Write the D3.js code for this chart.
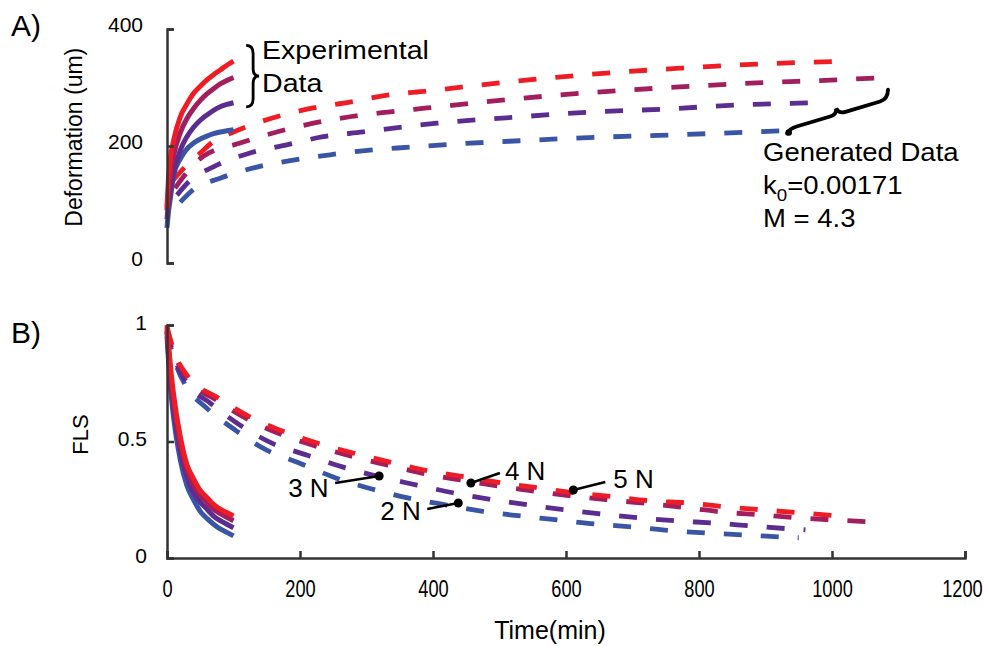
<!DOCTYPE html>
<html lang="en">
  <head>
    <title>Deformation and FLS</title>
    <script src="https://d3js.org/d3.v7.min.js" charset="utf-8"></script>
    <style type="text/css">
      body { margin: 0; background: white; font-family: "Liberation Sans", Arial, sans-serif; }
      .axis path, .axis line { stroke: #333; stroke-width: 2.5px; }
      .axis text { font-family: "Liberation Sans", Arial, sans-serif; fill: #000; }
    </style>
  </head>
  <body>
    <script>
      var width = 984;
      var height = 646;

      // series order: 2 N, 3 N, 4 N, 5 N
      var loads = ["2 N", "3 N", "4 N", "5 N"];
      var colors = ["#3a55a5", "#5b2d90", "#a21e5c", "#ee1c25"];

      // A) experimental deformation (um), t = 0..100 min
      var expTime = [0, 2, 5, 10, 20, 30, 40, 50, 60, 70, 80, 90, 100];
      var expDef2N = [60, 85, 110, 150, 178, 195, 205, 212, 217, 221, 224, 226, 228];
      var expDef3N = [75, 100, 125, 155, 193, 216, 232, 244, 253, 261, 267, 271, 274];
      var expDef4N = [90, 120, 150, 184, 223, 247, 264, 278, 289, 298, 306, 312, 317];
      var expDef5N = [95, 140, 178, 210, 250, 272, 290, 302, 313, 322, 330, 338, 345];

      // A) generated deformation (um)
      var genTime2N = [20, 39, 80, 135, 190, 245, 305, 365, 415, 530, 651, 761, 881, 944];
      var genDef2N = [104, 125, 145, 164, 176, 185, 193, 198, 202, 209, 215, 219, 224, 227];
      var genTime3N = [15, 32, 69, 125, 180, 235, 295, 350, 406, 520, 636, 746, 857, 971];
      var genDef3N = [116, 138, 164, 188, 202, 216, 224, 232, 239, 249, 258, 263, 270, 274];
      var genTime4N = [12, 30, 54, 110, 165, 220, 275, 332, 391, 500, 621, 771, 887, 1007, 1077];
      var genDef4N = [128, 155, 182, 205, 224, 239, 250, 258, 265, 278, 290, 301, 308, 313, 317];
      var genTime5N = [8, 27, 50, 69, 100, 165, 220, 275, 331, 391, 500, 621, 771, 887, 1020];
      var genDef5N = [140, 164, 188, 207, 224, 250, 265, 275, 287, 294, 308, 321, 333, 340, 345];

      // B) experimental FLS, same times as expTime
      var expFls2N = [0.95, 0.86, 0.74, 0.60, 0.42, 0.31, 0.25, 0.20, 0.17, 0.145, 0.125, 0.11, 0.095];
      var expFls3N = [0.97, 0.88, 0.77, 0.64, 0.46, 0.35, 0.28, 0.24, 0.21, 0.18, 0.16, 0.145, 0.13];
      var expFls4N = [0.98, 0.90, 0.80, 0.67, 0.49, 0.38, 0.31, 0.27, 0.24, 0.21, 0.19, 0.175, 0.16];
      var expFls5N = [1.00, 0.93, 0.83, 0.70, 0.52, 0.40, 0.34, 0.29, 0.26, 0.23, 0.21, 0.195, 0.18];

      // B) generated FLS
      var genFlsTime2N = [0, 10, 30, 57, 102, 150, 197, 250, 308, 362, 421, 475, 533, 588, 643, 701, 756, 812, 869, 925, 950];
      var genFls2N = [0.97, 0.86, 0.73, 0.65, 0.55, 0.463, 0.41, 0.348, 0.296, 0.258, 0.227, 0.2, 0.18, 0.163, 0.146, 0.133, 0.118, 0.107, 0.099, 0.09, 0.087];
      var genFlsTime3N = [0, 10, 30, 65, 110, 160, 210, 265, 320, 376, 430, 486, 543, 598, 654, 711, 768, 824, 880, 937, 960];
      var genFls3N = [0.98, 0.87, 0.75, 0.665, 0.57, 0.49, 0.442, 0.39, 0.348, 0.313, 0.28, 0.252, 0.228, 0.207, 0.189, 0.172, 0.159, 0.15, 0.137, 0.125, 0.121];
      var genFlsTime4N = [0, 10, 30, 77, 125, 177, 230, 286, 338, 394, 448, 505, 561, 615, 674, 729, 785, 836, 893, 949, 1006, 1075];
      var genFls4N = [0.99, 0.885, 0.775, 0.673, 0.59, 0.525, 0.475, 0.43, 0.395, 0.358, 0.332, 0.306, 0.284, 0.264, 0.247, 0.232, 0.215, 0.197, 0.185, 0.172, 0.163, 0.153];
      var genFlsTime5N = [0, 10, 30, 77, 125, 177, 230, 286, 338, 394, 448, 505, 561, 615, 674, 729, 785, 842, 898, 955, 1015];
      var genFls5N = [0.99, 0.89, 0.785, 0.687, 0.605, 0.541, 0.49, 0.446, 0.41, 0.373, 0.348, 0.322, 0.30, 0.279, 0.262, 0.245, 0.236, 0.219, 0.206, 0.193, 0.18];

      // axis ticks
      var xTicks = [0, 200, 400, 600, 800, 1000, 1200];
      var defTicks = [0, 200, 400];
      var flsTicks = [0, 0.5, 1];

      // load labels on the FLS plot: [time, FLS] of the dot
      var labelText = ["3 N", "2 N", "4 N", "5 N"];
      var labelTime = [319, 438, 457, 611];
      var labelFls = [0.352, 0.236, 0.322, 0.292];

      var svg = d3.select("body").append("svg")
        .attr("width", width)
        .attr("height", height);

      var x = d3.scaleLinear().domain([0, 1200]).range([167, 965]);
      var yA = d3.scaleLinear().domain([0, 400]).range([263, 29]);
      var yB = d3.scaleLinear().domain([0, 1]).range([558, 325]);

      function makeLine(y) {
        return d3.line()
          .x(function(d) { return x(d[0]); })
          .y(function(d) { return y(d[1]); })
          .curve(d3.curveMonotoneX);
      }
      var lineA = makeLine(yA);
      var lineB = makeLine(yB);

      var expDefs = [expDef2N, expDef3N, expDef4N, expDef5N];
      var genDefs = [d3.zip(genTime2N, genDef2N), d3.zip(genTime3N, genDef3N), d3.zip(genTime4N, genDef4N), d3.zip(genTime5N, genDef5N)];
      var expFls = [expFls2N, expFls3N, expFls4N, expFls5N];
      var genFls = [d3.zip(genFlsTime2N, genFls2N), d3.zip(genFlsTime3N, genFls3N), d3.zip(genFlsTime4N, genFls4N), d3.zip(genFlsTime5N, genFls5N)];

      // ---------- panel A ----------
      var gA = svg.append("g");

      gA.selectAll(".gen")
        .data(genDefs)
        .enter()
        .append("path")
        .attr("fill", "none")
        .attr("stroke", function(d, i) { return colors[i]; })
        .attr("stroke-width", 4.8)
        .attr("stroke-dasharray", "18,19")
        .attr("d", lineA);

      gA.selectAll(".exp")
        .data(expDefs)
        .enter()
        .append("path")
        .attr("fill", "none")
        .attr("stroke", function(d, i) { return colors[i]; })
        .attr("stroke-width", 5)
        .attr("d", function(d) { return lineA(d3.zip(expTime, d)); });

      var axA = gA.append("g")
        .attr("class", "axis")
        .attr("transform", "translate(" + x(0) + ",0)")
        .call(d3.axisLeft(yA).tickValues(defTicks).tickSizeInner(-7).tickSizeOuter(-7).tickPadding(24));
      axA.selectAll("text").attr("font-size", 21).attr("dy", "0.1em");

      gA.append("text")
        .attr("transform", "translate(82," + yA(215) + ") rotate(-90)")
        .attr("text-anchor", "middle")
        .attr("font-size", 23)
        .text("Deformation (um)");

      gA.append("text")
        .attr("x", 11).attr("y", 36)
        .attr("font-size", 30)
        .text("A)");

      // brace for experimental data
      var bx = x(125), bt = yA(372), bb = yA(267), bm = (bt + bb) / 2;
      gA.append("path")
        .attr("fill", "none").attr("stroke", "#000").attr("stroke-width", 2.8)
        .attr("d", "M" + (bx - 4) + "," + bt + " Q" + (bx + 3) + "," + bt + " " + (bx + 3) + "," + (bt + 8) +
          " L" + (bx + 3) + "," + (bm - 7) + " Q" + (bx + 3) + "," + bm + " " + (bx + 9) + "," + bm +
          " Q" + (bx + 3) + "," + bm + " " + (bx + 3) + "," + (bm + 7) +
          " L" + (bx + 3) + "," + (bb - 8) + " Q" + (bx + 3) + "," + bb + " " + (bx - 4) + "," + bb);

      var expLab = gA.append("g").attr("transform", "translate(262,0) scale(1.1,1)").attr("font-size", 26);
      expLab.append("text").attr("x", 0).attr("y", 59).text("Experimental");
      expLab.append("text").attr("x", 0).attr("y", 92).text("Data");

      // brace for generated data
      var g0 = [x(932), yA(223)], g1 = [x(1088), yA(276)];
      var ang = Math.atan2(g1[1] - g0[1], g1[0] - g0[0]) * 180 / Math.PI;
      var len = Math.hypot(g1[0] - g0[0], g1[1] - g0[1]);
      var h = len / 2;
      gA.append("path")
        .attr("fill", "none").attr("stroke", "#000").attr("stroke-width", 3.8).attr("stroke-linecap", "round")
        .attr("transform", "translate(" + g0[0] + "," + g0[1] + ") rotate(" + ang + ")")
        .attr("d", "M0,1 Q3,-3 12,-3 L" + (h - 8) + ",-3 Q" + (h - 1) + ",-3 " + h + ",-9 Q" + (h + 1) + ",-3 " + (h + 8) + ",-3 L" + (len - 10) + ",-3 Q" + (len - 2) + ",-3 " + (len + 1) + ",-12");
      gA.append("circle").attr("cx", g0[0] + 2).attr("cy", g0[1]).attr("r", 3.2).attr("fill", "#000");

      var gen = gA.append("g").attr("font-size", 25).attr("transform", "translate(763,0) scale(1.1,1)");
      gen.append("text").attr("x", 0).attr("y", 161).text("Generated Data");
      var kt = gen.append("text").attr("x", 0).attr("y", 194);
      kt.append("tspan").text("k");
      kt.append("tspan").attr("font-size", 17).attr("dy", 7).text("0");
      kt.append("tspan").attr("dy", -7).text("=0.00171");
      gen.append("text").attr("x", 0).attr("y", 227).text("M = 4.3");

      // ---------- panel B ----------
      var gB = svg.append("g");

      gB.selectAll(".gen")
        .data(genFls)
        .enter()
        .append("path")
        .attr("fill", "none")
        .attr("stroke", function(d, i) { return colors[i]; })
        .attr("stroke-width", 4.8)
        .attr("stroke-dasharray", "18,19")
        .attr("d", lineB);

      gB.selectAll(".exp")
        .data(expFls)
        .enter()
        .append("path")
        .attr("fill", "none")
        .attr("stroke", function(d, i) { return colors[i]; })
        .attr("stroke-width", 5)
        .attr("d", function(d) { return lineB(d3.zip(expTime, d)); });

      var axBy = gB.append("g")
        .attr("class", "axis")
        .attr("transform", "translate(" + x(0) + ",0)")
        .call(d3.axisLeft(yB).tickValues(flsTicks).tickFormat(d3.format("")).tickSizeInner(-7).tickSizeOuter(-7).tickPadding(20));
      axBy.selectAll("text").attr("font-size", 21).attr("dy", "0.2em");

      var axBx = gB.append("g")
        .attr("class", "axis")
        .attr("transform", "translate(0," + yB(0) + ")")
        .call(d3.axisBottom(x).tickValues(xTicks).tickFormat(d3.format("d")).tickSizeInner(-7).tickSizeOuter(-7).tickPadding(22));
      axBx.selectAll("text")
        .attr("font-size", 24)
        .attr("x", function(d) { return d === 1200 ? -4 : 0; })
        .attr("transform", "scale(0.76,1)");

      gB.append("text")
        .attr("transform", "translate(88," + yB(0.53) + ") rotate(-90)")
        .attr("text-anchor", "middle")
        .attr("font-size", 22)
        .text("FLS");

      gB.append("text")
        .attr("x", 11).attr("y", 343)
        .attr("font-size", 30)
        .text("B)");

      gB.append("text")
        .attr("x", 550).attr("y", 639)
        .attr("text-anchor", "middle")
        .attr("font-size", 25)
        .text("Time(min)");

      // load labels with leader lines
      var labelDx = [-44, -31, 29, 32];
      var labelDy = [7, 6, -10, -8];
      var labelTx = [-91, -78, 34, 40];
      var labelTy = [21, 17, -3, -2];
      var lab = gB.selectAll(".lab")
        .data(labelText)
        .enter()
        .append("g")
        .attr("transform", function(d, i) { return "translate(" + x(labelTime[i]) + "," + yB(labelFls[i]) + ")"; });
      lab.append("line")
        .attr("x1", 0).attr("y1", 0)
        .attr("x2", function(d, i) { return labelDx[i]; })
        .attr("y2", function(d, i) { return labelDy[i]; })
        .attr("stroke", "#000").attr("stroke-width", 2.5);
      lab.append("circle").attr("r", 4.5).attr("fill", "#000");
      lab.append("text")
        .attr("x", function(d, i) { return labelTx[i]; })
        .attr("y", function(d, i) { return labelTy[i]; })
        .attr("font-size", 26)
        .text(function(d) { return d; });
    </script>
  </body>
</html>
